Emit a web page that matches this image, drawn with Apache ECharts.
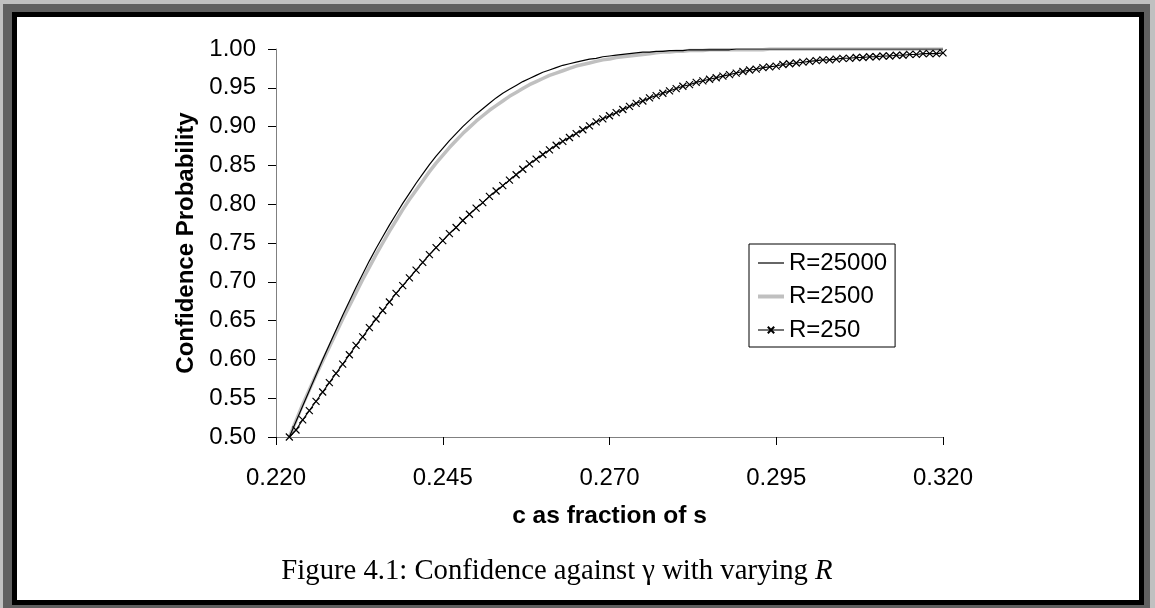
<!DOCTYPE html>
<html>
<head>
<meta charset="utf-8">
<title>Figure 4.1</title>
<script src="https://cdn.jsdelivr.net/npm/echarts@6/dist/echarts.min.js"></script>
<style>
	html, body { margin: 0; padding: 0; }
	body { width: 1155px; height: 608px; background: #c0c0c0; position: relative; overflow: hidden; }
	.frame-shadow { position: absolute; left: 3px; top: 4px; width: 1147px; height: 604px; background: #606060; }
	.frame-box { position: absolute; left: 12px; top: 12px; width: 1132px; height: 593px; background: #fff; border: 5px solid #000; box-sizing: border-box; }
	#chart { position: absolute; left: 0; top: 0; width: 1155px; height: 608px; }
</style>
</head>
<body>
<div class="frame-shadow"></div>
<div class="frame-box"></div>
<div id="chart"></div>
<script>
var cValues = [
	0.222, 0.223, 0.224, 0.225, 0.226, 0.227, 0.228, 0.229, 0.230, 0.231,
	0.232, 0.233, 0.234, 0.235, 0.236, 0.237, 0.238, 0.239, 0.240, 0.241,
	0.242, 0.243, 0.244, 0.245, 0.246, 0.247, 0.248, 0.249, 0.250, 0.251,
	0.252, 0.253, 0.254, 0.255, 0.256, 0.257, 0.258, 0.259, 0.260, 0.261,
	0.262, 0.263, 0.264, 0.265, 0.266, 0.267, 0.268, 0.269, 0.270, 0.271,
	0.272, 0.273, 0.274, 0.275, 0.276, 0.277, 0.278, 0.279, 0.280, 0.281,
	0.282, 0.283, 0.284, 0.285, 0.286, 0.287, 0.288, 0.289, 0.290, 0.291,
	0.292, 0.293, 0.294, 0.295, 0.296, 0.297, 0.298, 0.299, 0.300, 0.301,
	0.302, 0.303, 0.304, 0.305, 0.306, 0.307, 0.308, 0.309, 0.310, 0.311,
	0.312, 0.313, 0.314, 0.315, 0.316, 0.317, 0.318, 0.319, 0.320
];

var pR25000 = [
	0.500, 0.520, 0.540, 0.560, 0.580, 0.600, 0.619, 0.638, 0.657, 0.675,
	0.693, 0.710, 0.727, 0.743, 0.758, 0.773, 0.787, 0.801, 0.814, 0.827,
	0.839, 0.851, 0.862, 0.872, 0.882, 0.891, 0.900, 0.908, 0.916, 0.923,
	0.930, 0.937, 0.943, 0.948, 0.953, 0.958, 0.962, 0.966, 0.970, 0.973,
	0.976, 0.979, 0.981, 0.983, 0.985, 0.987, 0.988, 0.990, 0.991, 0.992,
	0.993, 0.994, 0.995, 0.996, 0.996, 0.997, 0.997, 0.998, 0.998, 0.998,
	0.999, 0.999, 0.999, 0.999, 0.999, 0.999, 0.999, 1.000, 1.000, 1.000,
	1.000, 1.000, 1.000, 1.000, 1.000, 1.000, 1.000, 1.000, 1.000, 1.000,
	1.000, 1.000, 1.000, 1.000, 1.000, 1.000, 1.000, 1.000, 1.000, 1.000,
	1.000, 1.000, 1.000, 1.000, 1.000, 1.000, 1.000, 1.000, 1.000
];

var pR2500 = [
	0.500, 0.521, 0.542, 0.561, 0.580, 0.598, 0.616, 0.634, 0.652, 0.669,
	0.686, 0.703, 0.719, 0.735, 0.750, 0.765, 0.779, 0.793, 0.806, 0.818,
	0.830, 0.842, 0.853, 0.863, 0.873, 0.882, 0.891, 0.899, 0.907, 0.914,
	0.921, 0.927, 0.933, 0.939, 0.944, 0.949, 0.954, 0.958, 0.962, 0.966,
	0.969, 0.972, 0.975, 0.978, 0.980, 0.982, 0.984, 0.986, 0.987, 0.989,
	0.990, 0.991, 0.992, 0.993, 0.994, 0.995, 0.996, 0.996, 0.997, 0.997,
	0.998, 0.998, 0.998, 0.999, 0.999, 0.999, 0.999, 0.999, 0.999, 0.999,
	0.999, 0.999, 1.000, 1.000, 1.000, 1.000, 1.000, 1.000, 1.000, 1.000,
	1.000, 1.000, 1.000, 1.000, 1.000, 1.000, 1.000, 1.000, 1.000, 1.000,
	1.000, 1.000, 1.000, 1.000, 1.000, 1.000, 1.000, 1.000, 1.000
];

var pR250 = [
	0.500, 0.509, 0.522, 0.534, 0.546, 0.558, 0.570, 0.582, 0.594, 0.606,
	0.618, 0.629, 0.641, 0.652, 0.663, 0.674, 0.685, 0.695, 0.705, 0.715,
	0.725, 0.735, 0.744, 0.753, 0.762, 0.770, 0.779, 0.787, 0.795, 0.802,
	0.810, 0.817, 0.824, 0.831, 0.838, 0.845, 0.852, 0.858, 0.864, 0.870,
	0.876, 0.881, 0.886, 0.891, 0.896, 0.901, 0.906, 0.910, 0.914, 0.918,
	0.922, 0.926, 0.930, 0.933, 0.937, 0.940, 0.943, 0.946, 0.949, 0.952,
	0.954, 0.957, 0.959, 0.961, 0.963, 0.965, 0.967, 0.969, 0.971, 0.973,
	0.974, 0.976, 0.977, 0.978, 0.980, 0.981, 0.982, 0.983, 0.984, 0.985,
	0.986, 0.986, 0.987, 0.988, 0.988, 0.989, 0.989, 0.990, 0.990, 0.991,
	0.991, 0.992, 0.992, 0.993, 0.993, 0.994, 0.994, 0.994, 0.995
];

var seriesNames = ['R=25000', 'R=2500', 'R=250'];
var xTicks = { min: 0.220, max: 0.320, step: 0.025 };
var yTicks = { min: 0.50, max: 1.00, step: 0.05 };

var FONT = '"Liberation Sans", Arial, sans-serif';
var SERIF = '"Liberation Serif", "Times New Roman", serif';

function pairs(ys) {
	var out = [];
	for (var i = 0; i < cValues.length; i++) {
		out.push([cValues[i], ys[i]]);
	}
	return out;
}

var chart = echarts.init(document.getElementById('chart'), null, { renderer: 'canvas' });

chart.setOption({
	animation: false,
	backgroundColor: 'transparent',
	grid: { left: 276, right: 212, top: 49, bottom: 171 },
	legend: {
		data: [
			{ name: seriesNames[0], lineStyle: { width: 1.2 } },
			{ name: seriesNames[1], lineStyle: { width: 4 } },
			{ name: seriesNames[2], lineStyle: { width: 1.1 } }
		],
		orient: 'vertical',
		left: 749,
		top: 244,
		padding: [7, 8, 5, 7],
		itemGap: 9.5,
		itemWidth: 26,
		itemHeight: 8,
		backgroundColor: '#fff',
		borderColor: '#000',
		borderWidth: 1,
		selectedMode: false,
		textStyle: { fontFamily: FONT, fontSize: 24, color: '#000', lineHeight: 24 }
	},
	xAxis: {
		type: 'value',
		min: xTicks.min,
		max: xTicks.max,
		interval: xTicks.step,
		name: 'c as fraction of s',
		nameLocation: 'middle',
		nameGap: 67,
		nameTextStyle: { fontFamily: FONT, fontSize: 24.5, fontWeight: 'bold', color: '#000' },
		axisLine: { lineStyle: { color: '#808080', width: 1 } },
		axisTick: { show: true, length: 8, lineStyle: { color: '#000' } },
		splitLine: { show: false },
		axisLabel: {
			margin: 29,
			fontFamily: FONT, fontSize: 24, color: '#000',
			formatter: function(v){ return v.toFixed(3); }
		}
	},
	yAxis: {
		type: 'value',
		min: yTicks.min,
		max: yTicks.max,
		interval: yTicks.step,
		name: 'Confidence Probability',
		nameLocation: 'middle',
		nameGap: 78,
		nameTextStyle: { fontFamily: FONT, fontSize: 24, fontWeight: 'bold', color: '#000' },
		axisLine: { show: true, lineStyle: { color: '#808080', width: 1 } },
		axisTick: { show: true, length: 8, lineStyle: { color: '#000' } },
		splitLine: { show: false },
		axisLabel: {
			margin: 20,
			fontFamily: FONT, fontSize: 24, color: '#000',
			formatter: function(v){ return v.toFixed(2); }
		}
	},
	series: [
		{
			name: 'R=2500',
			type: 'line',
			data: pairs(pR2500),
			// transparent symbol so the legend only shows the line
			symbol: 'circle',
			showSymbol: false,
			clip: true,
			lineStyle: { color: '#c0c0c0', width: 3.5 },
			itemStyle: { color: 'rgba(0,0,0,0)' },
			emphasis: { disabled: true }
		},
		{
			name: 'R=25000',
			type: 'line',
			data: pairs(pR25000),
			symbol: 'circle',
			showSymbol: false,
			clip: true,
			lineStyle: { color: '#000', width: 1.2 },
			itemStyle: { color: 'rgba(0,0,0,0)' },
			emphasis: { disabled: true }
		},
		{
			name: 'R=250',
			type: 'line',
			data: pairs(pR250),
			symbol: 'path://M0 0L10 10M10 0L0 10',
			symbolSize: 7,
			showAllSymbol: true,
			clip: true,
			lineStyle: { color: '#000', width: 1.1 },
			itemStyle: { color: 'none', borderColor: '#000', borderWidth: 1.2 },
			emphasis: { disabled: true }
		}
	],
	graphic: [
		{
			type: 'text',
			x: 557,
			y: 571,
			style: {
				text: '{a|Figure 4.1: Confidence against \u03b3 with varying }{b|R}',
				align: 'center',
				verticalAlign: 'middle',
				rich: {
					a: { fontFamily: SERIF, fontSize: 28.7, fill: '#000' },
					b: { fontFamily: SERIF, fontSize: 28.7, fontStyle: 'italic', fill: '#000' }
				}
			}
		}
	]
});
</script>
</body>
</html>
